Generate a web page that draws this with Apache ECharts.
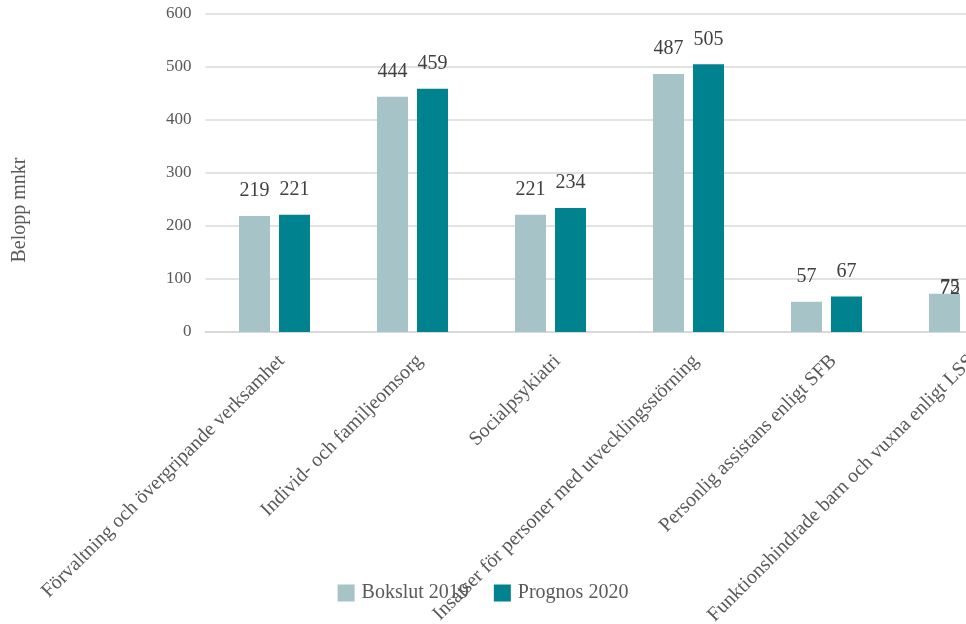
<!DOCTYPE html>
<html>
<head>
<meta charset="utf-8">
<script src="https://cdn.jsdelivr.net/npm/echarts@6/dist/echarts.min.js"></script>
<style>
html,body{margin:0;padding:0;background:#fff;}
#chart{width:966px;height:624px;}
</style>
</head>
<body>
<div id="chart"></div>
<script>
var categories = [
  'Förvaltning och övergripande verksamhet',
  'Individ- och familjeomsorg',
  'Socialpsykiatri',
  'Insatser för personer med utvecklingsstörning',
  'Personlig assistans enligt SFB',
  'Funktionshindrade barn och vuxna enligt LSS'
];
var bokslut2019 = [219, 444, 221, 487, 57, 72];
var prognos2020 = [221, 459, 234, 505, 67, 75];
var seriesNames = ['Bokslut 2019', 'Prognos 2020'];
var yAxisTitle = 'Belopp mnkr';

var FONT = '"Liberation Serif", "DejaVu Serif", serif';
var chart = echarts.init(document.getElementById('chart'));

function keepInside(p) {
  var maxR = chart.getWidth() - 6;
  if (p.rect.x + p.rect.width > maxR) {
    return { x: maxR, align: 'right' };
  }
  return {};
}

var labelStyle = {
  show: true,
  position: 'top',
  distance: 15,
  fontFamily: FONT,
  fontSize: 20,
  color: '#404040'
};

chart.setOption({
  animation: false,
  backgroundColor: '#ffffff',
  grid: {
    left: 205.5, top: 14, bottom: 292, width: 828,
    containLabel: false,
    outerBoundsMode: 'none'
  },
  legend: {
    data: seriesNames,
    left: 'center',
    top: 578,
    itemWidth: 17,
    itemHeight: 17,
    itemGap: 25,
    icon: 'rect',
    textStyle: { fontFamily: FONT, fontSize: 20, color: '#595959', padding: [0, 0, 0, 2] }
  },
  graphic: [{
    type: 'text',
    x: 20,
    y: 210,
    rotation: Math.PI / 2,
    style: {
      text: yAxisTitle,
      fontFamily: FONT,
      fontSize: 20,
      fill: '#595959',
      align: 'center',
      verticalAlign: 'middle'
    }
  }],
  xAxis: {
    type: 'category',
    data: categories,
    axisLine: { show: true, lineStyle: { color: '#D9D9D9', width: 2 } },
    axisTick: { show: false },
    axisLabel: {
      interval: 0,
      rotate: 45,
      margin: 19,
      verticalAlign: 'top',
      fontFamily: FONT,
      fontSize: 20,
      color: '#595959'
    }
  },
  yAxis: {
    type: 'value',
    min: 0,
    max: 600,
    interval: 100,
    axisLine: { show: false },
    axisTick: { show: false },
    splitLine: { lineStyle: { color: '#D9D9D9', width: 1.5 } },
    axisLabel: {
      margin: 14,
      fontFamily: FONT,
      fontSize: 17,
      color: '#595959'
    }
  },
  series: [
    {
      name: seriesNames[0],
      type: 'bar',
      data: bokslut2019,
      barWidth: 31,
      barGap: '29%',
      itemStyle: { color: '#A6C3C8' },
      label: labelStyle,
      labelLayout: keepInside
    },
    {
      name: seriesNames[1],
      type: 'bar',
      data: prognos2020,
      barWidth: 31,
      barGap: '29%',
      itemStyle: { color: '#00828F' },
      label: labelStyle,
      labelLayout: keepInside
    }
  ]
});
</script>
</body>
</html>
